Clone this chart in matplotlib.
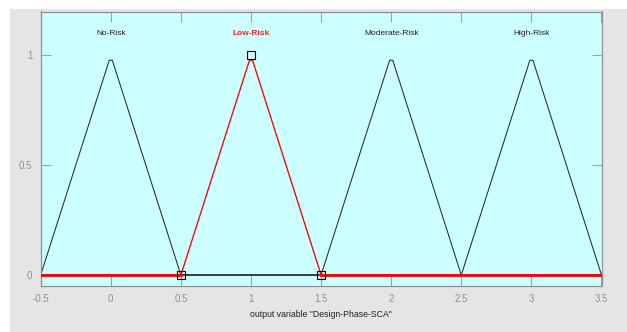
import matplotlib
matplotlib.use("Agg")
import matplotlib.pyplot as plt
from matplotlib.patches import Rectangle

# Membership functions of the output variable (triangular: a, b, c)
mf_names = ["No-Risk", "Low-Risk", "Moderate-Risk", "High-Risk"]
mf_left = [-0.5, 0.5, 1.5, 2.5]
mf_peak = [0.0, 1.0, 2.0, 3.0]
mf_right = [0.5, 1.5, 2.5, 3.5]
# plotted apex height and half-width of the flat top on the sampled curve
apex_height = [0.978, 0.978, 0.978, 0.978]
apex_half = [0.011, 0.011, 0.011, 0.011]
selected = 1

x_range = [-0.5, 3.5]
x_ticks = [-0.5, 0, 0.5, 1, 1.5, 2, 2.5, 3, 3.5]
y_ticks = [0, 0.5, 1]
x_label = 'output variable "Design-Phase-SCA"'

fig = plt.figure(figsize=(6.27, 3.32), dpi=100)
fig.patch.set_facecolor("white")
fig.patches.append(Rectangle((10 / 627, 0), 1 - 10 / 627, 1 - 9 / 332,
                             transform=fig.transFigure, facecolor="#e5e5e5",
                             edgecolor="none", zorder=-10))

ax = fig.add_axes([40.7 / 627, 46 / 332, (601.5 - 40.7) / 627, (286 - 11.5) / 332])
ax.set_zorder(1)
ax.set_facecolor("#ccffff")


def mf_curve(i):
    xs = [x_range[0], mf_left[i], mf_peak[i] - apex_half[i],
          mf_peak[i] + apex_half[i], mf_right[i], x_range[1]]
    ys = [0, 0, apex_height[i], apex_height[i], 0, 0]
    return xs, ys


for i in range(len(mf_names)):
    if i == selected:
        continue
    xs, ys = mf_curve(i)
    ax.plot(xs, ys, color="#2a2a2a", lw=0.75, zorder=2)

xs, ys = mf_curve(selected)
ax.plot(xs, ys, color="#ff0000", lw=0.95, zorder=3)
ax.plot([x_range[0], mf_left[selected]], [0, 0], color="#ff0000", lw=2.0, zorder=3)
ax.plot([mf_right[selected], x_range[1]], [0, 0], color="#ff0000", lw=2.0, zorder=3)
ax.plot([mf_left[selected], mf_peak[selected], mf_right[selected]], [0, 1, 0],
        linestyle="none", marker="s", markersize=6, markerfacecolor="none",
        markeredgecolor="black", markeredgewidth=0.8, zorder=4)

for i, name in enumerate(mf_names):
    sel = i == selected
    ax.text(mf_peak[i], 1.10, name, ha="center", va="center",
            fontsize=6, family="Liberation Sans",
            color="#ff2020" if sel else "#222222",
            fontweight="bold" if sel else "normal")

ax.set_xlim(x_range)
ax.set_ylim(-0.05, 1.2)
ax.set_xticks(x_ticks)
ax.set_xticklabels([f"{t:g}" for t in x_ticks])
ax.set_yticks(y_ticks)
ax.set_yticklabels([f"{t:g}" for t in y_ticks])
ax.tick_params(direction="in", length=7, width=0.8, color="#a0a0a0",
               labelcolor="#909090", labelsize=7, top=True, right=True,
               pad=6)
for lab in ax.get_xticklabels() + ax.get_yticklabels():
    lab.set_family("Liberation Sans")
for sp in ax.spines.values():
    sp.set_color("#909090")
    sp.set_linewidth(0.9)

ax.set_xlabel(x_label, fontsize=6.3, family="Liberation Sans",
              color="#222222", labelpad=4)

fig.savefig("out.png", dpi=100)
